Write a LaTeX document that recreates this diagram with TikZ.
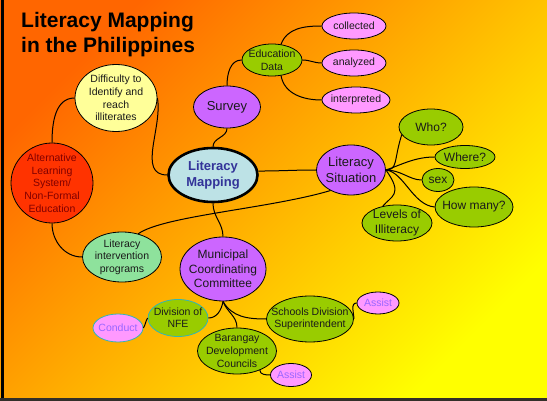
\documentclass[tikz,border=0pt]{standalone}
\usepackage{fontspec}
\setmainfont{Liberation Sans}
\usetikzlibrary{shapes.geometric}
\definecolor{bgA}{HTML}{FF6600}
\definecolor{bgB}{HTML}{FFFF00}
\definecolor{purp}{HTML}{CC66FF}
\definecolor{grn}{HTML}{99CC00}
\definecolor{pnk}{HTML}{FF99FF}
\definecolor{ylw}{HTML}{FFFF99}
\definecolor{rd}{HTML}{FF3300}
\definecolor{lblue}{HTML}{BDE2E6}
\definecolor{lgrn}{HTML}{8EE29C}
\definecolor{tealb}{HTML}{33B5B5}
\definecolor{navyt}{HTML}{333399}
\definecolor{maroont}{HTML}{800000}
\definecolor{violett}{HTML}{9966FF}
\definecolor{darkt}{HTML}{1A1A1A}
\begin{document}
\begin{tikzpicture}[x=1pt,y=1pt,
  bub/.style={ellipse, draw=black, line width=0.8pt, inner sep=0pt},
  sz/.style 2 args={minimum width=#1, minimum height=#2},
  txt/.style={inner sep=0pt, align=center, text=darkt, font=\fontsize{10.5}{12.6}\selectfont},
  mid/.style={inner sep=0pt, align=center, text=darkt, font=\fontsize{12}{14.5}\selectfont},
  big/.style={inner sep=0pt, align=center, text=darkt, font=\fontsize{13}{16.5}\selectfont},
  link/.style={line width=1pt, black}]
\useasboundingbox (0,0) rectangle (547,-401);
\shade[top color=bgA, bottom color=bgB, shading angle=45] (0,0) rectangle (547,-401);
\fill[black] (1,0) rectangle (3.5,-401);
\fill[black!85!olive] (0,-398) rectangle (547,-401);

% title
\node[anchor=base west, inner sep=0pt, font=\fontsize{21}{25}\selectfont\bfseries] (t1) at (21,-28) {Literacy Mapping};
\node[anchor=base west, inner sep=0pt, font=\fontsize{21}{25}\selectfont\bfseries] (t2) at (21,-53) {in the Philippines};

% bubbles
\node[bub, sz={60}{32}, fill=grn] (edu) at (272,-60) {};
\node[bub, sz={64}{26}, fill=pnk] (col) at (354,-26) {};
\node[bub, sz={64}{26}, fill=pnk] (ana) at (354,-63) {};
\node[bub, sz={68}{26}, fill=pnk] (int) at (356,-100) {};
\node[bub, sz={67}{42}, fill=purp] (sur) at (227,-107) {};
\node[bub, sz={82}{67}, fill=ylw] (dif) at (116,-98) {};
\node[bub, sz={82}{80}, fill=rd] (als) at (52,-183) {};
\node[bub, sz={89}{54}, fill=lblue, line width=2.6pt] (lm) at (213,-175) {};
\node[bub, sz={69}{50}, fill=purp] (ls) at (351,-170) {};
\node[bub, sz={64}{36}, fill=grn] (who) at (431,-127) {};
\node[bub, sz={60}{23}, fill=grn] (whe) at (465,-157) {};
\node[bub, sz={32}{23}, fill=grn] (sex) at (438,-180) {};
\node[bub, sz={78}{40}, fill=grn] (hm) at (474,-207) {};
\node[bub, sz={70}{36}, fill=grn] (lev) at (397,-223) {};
\node[bub, sz={79}{50}, fill=lgrn] (lip) at (122,-257) {};
\node[bub, sz={86}{64}, fill=purp] (mcc) at (223,-269) {};
\node[bub, sz={60}{37}, fill=grn, draw=tealb] (nfe) at (178,-318) {};
\node[bub, sz={50}{28}, fill=pnk, draw=tealb] (con) at (118,-328) {};
\node[bub, sz={79}{46}, fill=grn] (bdc) at (237,-351) {};
\node[bub, sz={41}{23}, fill=pnk] (as1) at (291,-375) {};
\node[bub, sz={87}{46}, fill=grn] (sds) at (310,-319) {};
\node[bub, sz={42}{22}, fill=pnk] (as2) at (378,-303) {};

% texts
\node[txt] (edu-t) at (edu) {Education\\Data};
\node[txt] (col-t) at (col) {collected};
\node[txt] (ana-t) at (ana) {analyzed};
\node[txt] (int-t) at (int) {interpreted};
\node[big] (sur-t) at (sur) {Survey};
\node[txt, font=\fontsize{10.5}{12.7}\selectfont] (dif-t) at (dif) {Difficulty to\\Identify and\\reach\\illiterates};
\node[txt, text=maroont, font=\fontsize{10.5}{12.7}\selectfont] (als-t) at (als) {Alternative\\Learning\\System/\\Non-Formal\\Education};
\node[big, text=navyt, font=\fontsize{13}{16}\selectfont\bfseries] (lm-t) at (lm) {Literacy\\Mapping};
\node[big] (ls-t) at (ls) {Literacy\\Situation};
\node[mid] (who-t) at (who) {Who?};
\node[mid] (whe-t) at (whe) {Where?};
\node[mid] (sex-t) at (sex) {sex};
\node[mid] (hm-t) at (hm) {How many?};
\node[mid] (lev-t) at (lev) {Levels of\\Illiteracy};
\node[txt, font=\fontsize{10.5}{12.5}\selectfont] (lip-t) at (lip) {Literacy\\intervention\\programs};
\node[mid] (mcc-t) at (mcc) {Municipal\\Coordinating\\Committee};
\node[txt, font=\fontsize{10.5}{12}\selectfont] (nfe-t) at (nfe) {Division of\\NFE};
\node[txt, text=violett] (con-t) at (con) {Conduct};
\node[txt, font=\fontsize{10.5}{12.7}\selectfont] (bdc-t) at (bdc) {Barangay\\Development\\Councils};
\node[txt, text=violett] (as1-t) at (as1) {Assist};
\node[txt, font=\fontsize{10.5}{12}\selectfont] (sds-t) at (sds) {Schools Division\\Superintendent};
\node[txt, text=violett] (as2-t) at (as2) {Assist};

% connectors
\draw[link] (lm.north) to[out=90,in=-90] (sur.south);
\draw[link] (sur.north) to[out=90,in=180] (edu.west);
\draw[link] (edu.60) to[out=70,in=180] (col.west);
\draw[link] (edu.east) to[out=0,in=180] (ana.west);
\draw[link] (edu.-60) to[out=-80,in=180] (int.west);
\draw[link] (dif.west) to[out=180,in=90] (als.north);
\draw[link] (dif.east) to[out=-80,in=180] (lm.west);
\draw[link] (als.south) to[out=-90,in=180] (lip.west);
\draw[link] (lip.55) .. controls +(25,18) and +(-60,-18) .. (ls.225);
\draw[link] (lm.5) to[out=0,in=180] (ls.west);
\draw[link] (lm.south) to[out=-90,in=90] (mcc.north);
\draw[link] (ls.east) .. controls +(12,0) and +(-8,-25) .. (who.195);
\draw[link] (ls.east) .. controls +(15,5) and +(-20,0) .. (whe.west);
\draw[link] (ls.east) .. controls +(15,0) and +(-12,0) .. (sex.west);
\draw[link] (ls.east) .. controls +(18,-2) and +(-22,2) .. (hm.west);
\draw[link] (ls.east) .. controls +(18,-25) and +(8,10) .. (lev.130);
\draw[link] (mcc.south) to[out=-100,in=0] (nfe.east);
\draw[link] (mcc.south) to[out=-70,in=90] (bdc.north);
\draw[link] (mcc.south) to[out=-60,in=180] (sds.west);
\draw[link] (nfe.west) to[out=-120,in=60] (con.east);
\draw[link] (bdc.-40) to[out=-90,in=180] (as1.west);
\draw[link] (sds.east) to[out=90,in=180] (as2.west);
\end{tikzpicture}
\end{document}
